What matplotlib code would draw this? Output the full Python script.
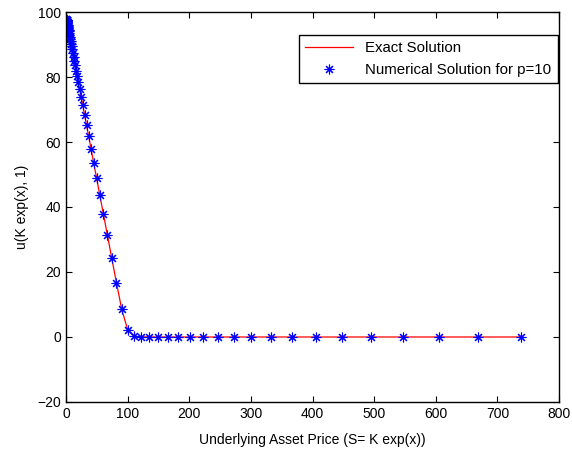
import matplotlib
matplotlib.use("Agg")
import matplotlib.pyplot as plt

plt.rcParams['font.family'] = ['Liberation Sans', 'DejaVu Sans']

# Underlying asset price grid S = K exp(x), K = 100
S = [0.674, 0.745, 0.823, 0.910, 1.005, 1.111, 1.228, 1.357, 1.500, 1.657,
     1.832, 2.024, 2.237, 2.472, 2.732, 3.020, 3.337, 3.688, 4.076, 4.505,
     4.979, 5.502, 6.081, 6.721, 7.427, 8.208, 9.072, 10.026, 11.080, 12.246,
     13.534, 14.957, 16.530, 18.268, 20.190, 22.313, 24.660, 27.253, 30.119, 33.287,
     36.788, 40.657, 44.933, 49.659, 54.881, 60.653, 67.032, 74.082, 81.873, 90.484,
     100.0, 110.517, 122.140, 134.986, 149.182, 164.872, 182.212, 201.375, 222.554, 245.960,
     271.828, 300.417, 332.012, 366.930, 405.520, 448.169, 495.303, 547.395, 604.965, 668.589,
     738.906]

# option value u(K exp(x), 1)
u_exact = [97.84, 97.77, 97.69, 97.60, 97.51, 97.40, 97.28, 97.15, 97.01, 96.85,
           96.68, 96.49, 96.27, 96.04, 95.78, 95.49, 95.17, 94.82, 94.43, 94.01,
           93.53, 93.01, 92.43, 91.79, 91.08, 90.30, 89.44, 88.48, 87.43, 86.26,
           84.98, 83.55, 81.98, 80.24, 78.32, 76.20, 73.85, 71.26, 68.39, 65.22,
           61.72, 57.85, 53.58, 48.85, 43.63, 37.86, 31.48, 24.43, 16.66, 8.48,
           2.29, 0.21, 0.01, 0, 0, 0, 0, 0, 0, 0,
           0, 0, 0, 0, 0, 0, 0, 0, 0, 0,
           0]
u_num = list(u_exact)

fig = plt.figure(figsize=(5.72, 4.53), dpi=100)
ax = fig.add_axes([0.1154, 0.1126, 0.8619, 0.8609])

ax.plot(S, u_exact, color='#ff0000', lw=0.9, label='Exact Solution')
ax.plot(S, u_num, ls='none', marker=(8, 2, 0), ms=7, mew=0.8,
        color='blue', label='Numerical Solution for p=10')

ax.set_xlim(0, 800)
ax.set_ylim(-20, 100)
ax.set_xticks(range(0, 801, 100))
ax.set_yticks(range(-20, 101, 20))
ax.tick_params(direction='in', top=True, right=True, labelsize=10, length=4)
for sp in ax.spines.values():
    sp.set_linewidth(1.0)

ax.set_xlabel('Underlying Asset Price (S= K exp(x))', fontsize=10, labelpad=9)
ax.set_ylabel('u(K exp(x), 1)', fontsize=10, labelpad=6)

leg = ax.legend(loc='upper right', bbox_to_anchor=(0.997, 0.94), fontsize=10.8,
                fancybox=False, framealpha=1, edgecolor='black',
                borderaxespad=0, handlelength=3.2)
leg.get_frame().set_linewidth(1.0)

fig.savefig('out.png', dpi=100)
